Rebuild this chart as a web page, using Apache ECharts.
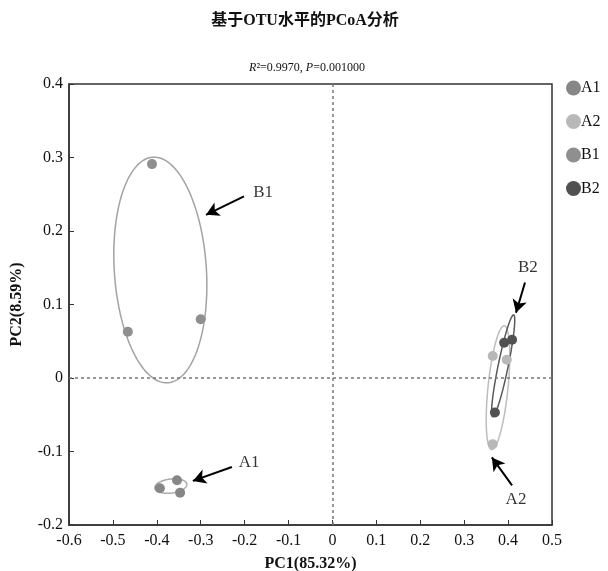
<!DOCTYPE html>
<html>
<head>
<meta charset="utf-8">
<script src="https://cdn.jsdelivr.net/npm/echarts@6/dist/echarts.min.js"></script>
<style>html,body{margin:0;padding:0;background:#fff}</style>
</head>
<body>
<div id="chart" style="width:608px;height:571px"></div>
<script>
const groups = ['A1', 'A2', 'B1', 'B2']
const groupColors = ['#878787', '#b8b8b8', '#8f8f8f', '#515151']
const ringColors = ['#aaaaaa', '#bdbdbd', '#a3a3a3', '#5a5a5a']

// [PC1, PC2] per sample
const pointsA1 = [[-0.393, -0.150], [-0.354, -0.139], [-0.347, -0.156]]
const pointsA2 = [[0.365, 0.030], [0.397, 0.025], [0.365, -0.090]]
const pointsB1 = [[-0.411, 0.291], [-0.466, 0.063], [-0.300, 0.080]]
const pointsB2 = [[0.391, 0.048], [0.409, 0.052], [0.370, -0.047]]

// ellipse: [cx, cy, ux, uy, vx, vy] (centre + two conjugate half axes, data units)
const ellipseA1 = [-0.368, -0.147, 0.0364, 0.0027, 0.002, -0.0095]
const ellipseA2 = [0.377, -0.0132, 0.01435, 0.0842, 0.02267, -0.00139]
const ellipseB1 = [-0.392, 0.147, -0.0171, 0.1535, 0.1046, 0.0042]
const ellipseB2 = [0.3888, 0.0166, 0.0239, 0.0693, 0.01116, -0.00136]

// annotations: label, text pos, arrow from, arrow to
const noteLabels = ['B1', 'A1', 'B2', 'A2']
const notePos = [[-0.158, 0.252], [-0.190, -0.115], [0.445, 0.150], [0.418, -0.166]]
const arrowFrom = [[-0.2016, 0.247], [-0.229, -0.121], [0.4385, 0.130], [0.409, -0.146]]
const arrowTo = [[-0.288, 0.222], [-0.318, -0.140], [0.418, 0.0887], [0.363, -0.108]]

const xTicks = { min: -0.6, max: 0.5, interval: 0.1 }
const yTicks = { min: -0.2, max: 0.4, interval: 0.1 }

const serif = '"Liberation Serif", "Times New Roman", "Noto Sans CJK SC", serif'
const chart = echarts.init(document.getElementById('chart'))

const points = [pointsA1, pointsA2, pointsB1, pointsB2]
const ellipses = [ellipseA1, ellipseA2, ellipseB1, ellipseB2]

function fmt(v) {
  return Math.abs(v) < 1e-9 ? '0' : (+v.toFixed(1)).toString()
}

const ellipseSeries = ellipses.map((e, i) => ({
  type: 'custom',
  name: groups[i] + '_ellipse',
  silent: true,
  z: 1,
  data: [e],
  encode: { x: 0, y: 1 },
  renderItem: (params, api) => {
    const cx = api.value(0), cy = api.value(1)
    const ux = api.value(2), uy = api.value(3)
    const vx = api.value(4), vy = api.value(5)
    const pts = []
    for (let k = 0; k <= 120; k++) {
      const t = (k / 120) * Math.PI * 2
      pts.push(api.coord([cx + Math.cos(t) * ux + Math.sin(t) * vx, cy + Math.cos(t) * uy + Math.sin(t) * vy]))
    }
    return {
      type: 'polygon',
      shape: { points: pts },
      style: { fill: 'none', stroke: ringColors[i], lineWidth: 1.5 }
    }
  }
}))

const scatterSeries = points.map((p, i) => ({
  type: 'scatter',
  name: groups[i],
  data: p,
  symbolSize: 10,
  z: 3,
  itemStyle: { color: groupColors[i], opacity: 1 }
}))

const guideSeries = {
  type: 'line',
  name: 'guides',
  data: [],
  silent: true,
  markLine: {
    silent: true,
    symbol: ['none', 'none'],
    label: { show: false },
    lineStyle: { color: '#777', type: [3, 3], width: 1.5 },
    data: [{ xAxis: 0 }, { yAxis: 0 }]
  }
}

const arrowSeries = {
  type: 'line',
  name: 'arrows',
  data: [],
  silent: true,
  markLine: {
    silent: true,
    symbol: ['none', 'arrow'],
    symbolSize: [11, 13],
    label: { show: false },
    lineStyle: { color: '#000', type: 'solid', width: 2 },
    data: arrowFrom.map((f, i) => [{ coord: f }, { coord: arrowTo[i] }])
  }
}

const noteSeries = {
  type: 'scatter',
  name: 'notes',
  silent: true,
  symbolSize: 0,
  data: notePos.map((p, i) => ({ value: p, name: noteLabels[i] })),
  label: {
    show: true,
    position: 'inside',
    formatter: p => p.name,
    fontFamily: serif,
    fontSize: 17,
    color: '#000'
  }
}

chart.setOption({
  backgroundColor: '#fff',
  animation: false,
  title: [
    {
      text: '基于OTU水平的PCoA分析',
      left: 300, top: 8, textAlign: 'center',
      textStyle: { fontFamily: serif, fontSize: 16, fontWeight: 'bold', color: '#111' }
    },
    {
      text: '{i|R}²=0.9970, {i|P}=0.001000',
      left: 302, top: 57, textAlign: 'center',
      textStyle: {
        fontFamily: serif, fontSize: 12, fontWeight: 'normal', color: '#111',
        rich: { i: { fontFamily: serif, fontSize: 12, fontStyle: 'italic', color: '#111' } }
      }
    }
  ],
  legend: {
    data: groups,
    orient: 'vertical',
    left: 566, top: 80, padding: 0,
    itemWidth: 15, itemHeight: 15, itemGap: 17.5,
    icon: 'circle',
    textStyle: { fontFamily: serif, fontSize: 16, color: '#111', padding: [0, 0, 0, -5] }
  },
  grid: {
    left: 69, right: 56, top: 84, bottom: 46,
    outerBoundsMode: 'none',
    show: true, borderColor: '#333', borderWidth: 1.5
  },
  xAxis: {
    type: 'value',
    min: xTicks.min, max: xTicks.max, interval: xTicks.interval,
    name: 'PC1(85.32%)', nameLocation: 'middle', nameGap: 31,
    nameTextStyle: { fontFamily: serif, fontSize: 16, fontWeight: 'bold', color: '#111' },
    axisLine: { show: true, onZero: false, lineStyle: { color: '#333', width: 1.5 } },
    axisTick: { show: true, inside: true, length: 5, lineStyle: { color: '#333' } },
    axisLabel: { fontFamily: serif, fontSize: 16, color: '#111', margin: 8, formatter: fmt },
    splitLine: { show: false }
  },
  yAxis: {
    type: 'value',
    min: yTicks.min, max: yTicks.max, interval: yTicks.interval,
    name: 'PC2(8.59%)', nameLocation: 'middle', nameGap: 44,
    nameTextStyle: { fontFamily: serif, fontSize: 16, fontWeight: 'bold', color: '#111' },
    axisLine: { show: true, onZero: false, lineStyle: { color: '#333', width: 1.5 } },
    axisTick: { show: true, inside: true, length: 5, lineStyle: { color: '#333' } },
    axisLabel: { fontFamily: serif, fontSize: 16, color: '#111', margin: 6, formatter: fmt },
    splitLine: { show: false }
  },
  series: [guideSeries, ...ellipseSeries, ...scatterSeries, arrowSeries, noteSeries]
})
</script>
</body>
</html>
